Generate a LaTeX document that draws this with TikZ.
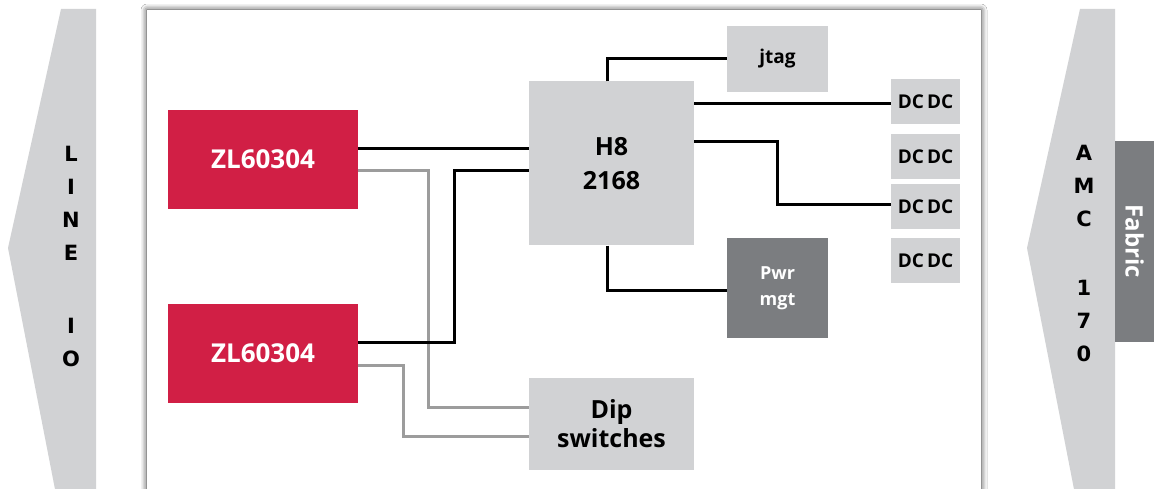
\documentclass[tikz,border=0pt]{standalone}
\usepackage{fontspec}
\setmainfont{Open Sans}
\newfontfamily\heavyfont{DejaVu Sans}
\usetikzlibrary{shadows.blur}
\definecolor{boxgray}{HTML}{D1D2D4}
\definecolor{darkbox}{HTML}{7B7D80}
\definecolor{crimson}{HTML}{D11F45}
\definecolor{linegray}{HTML}{9C9C9C}
\begin{document}
\begin{tikzpicture}[x=1pt,y=-1pt,
  box/.style={fill=boxgray, inner sep=0pt, align=center},
  redbox/.style={fill=crimson, text=white, inner sep=0pt, align=center,
    font=\bfseries\fontsize{26}{30}\selectfont, minimum width=190pt, minimum height=99pt},
  bigtxt/.style={font=\bfseries\fontsize{25}{34}\selectfont},
  smalltxt/.style={font=\bfseries\fontsize{19}{23}\selectfont},
  blk/.style={line width=3pt, black},
  gry/.style={line width=3pt, linegray},
  side/.style={fill=boxgray},
  vert/.style={inner sep=0pt, align=center, font=\heavyfont\bfseries\fontsize{21}{33}\selectfont},
]
\useasboundingbox (0,0) rectangle (1154,489);
\clip (0,0) rectangle (1154,489);
\fill[white] (0,0) rectangle (1154,489);

% side arrows
\fill[side] (61,9) -- (96,9) -- (96,520) -- (61,520) -- (8,248) -- cycle;
\fill[side] (1080,9) -- (1115,9) -- (1115,520) -- (1080,520) -- (1027,248) -- cycle;
\node[vert] (lineio) at (71,256) {L\\I\\N\\E\\[40pt]I\\O};
\node[vert] (amc) at (1084,253.5) {A\\M\\C\\[36pt]1\\7\\0};
\node[fill=darkbox, text=white, rotate=-90, inner sep=0pt, minimum width=201pt, minimum height=39pt,
  font=\bfseries\fontsize{24}{28}\selectfont] (fabric) at (1134.5,241.5) {Fabric};

% main panel
\path[fill=white, blur shadow={shadow xshift=0pt, shadow yshift=0pt, shadow blur radius=6pt, shadow opacity=85}]
  (147,10) rectangle (981,530);

% nodes
\node[redbox] (zl1) at (263,159.5) {ZL60304};
\node[redbox] (zl2) at (263,353.5) {ZL60304};
\node[box, bigtxt, minimum width=165pt, minimum height=164pt] (h8) at (611.5,163.5) {H8\\2168};
\node[box, smalltxt, minimum width=101pt, minimum height=66pt] (jtag) at (777.5,59) {jtag};
\node[box, smalltxt, minimum width=69pt, minimum height=45pt] (dc1) at (925.5,101.5) {DC\,DC};
\node[box, smalltxt, minimum width=69pt, minimum height=45pt] (dc2) at (925.5,156.5) {DC\,DC};
\node[box, smalltxt, minimum width=69pt, minimum height=45pt] (dc3) at (925.5,206.5) {DC\,DC};
\node[box, smalltxt, minimum width=69pt, minimum height=45pt] (dc4) at (925.5,260.5) {DC\,DC};
\node[box, fill=darkbox, text=white, font=\bfseries\fontsize{18}{26}\selectfont,
  minimum width=101pt, minimum height=100pt] (pwr) at (777.5,288) {Pwr\\mgt};
\node[box, font=\bfseries\fontsize{25}{29}\selectfont, minimum width=165pt, minimum height=92pt] (dip) at (611.5,424) {Dip\\switches};

% connectors
\draw[blk] (zl1.east |- 0,149) -- (h8.west |- 0,149);
\draw[gry] (zl1.east |- 0,171) -- (428,171) -- (428,407) -- (dip.west |- 0,407);
\draw[blk] (zl2.east |- 0,342) -- (454,342) -- (454,171) -- (h8.west |- 0,171);
\draw[gry] (zl2.east |- 0,365) -- (403,365) -- (403,436) -- (dip.west |- 0,436);
\draw[blk] (h8.north -| 607,0) -- (607,59) -- (jtag.west);
\draw[blk] (h8.east |- 0,104) -- (dc1.west |- 0,104);
\draw[blk] (h8.east |- 0,142) -- (777,142) -- (777,205) -- (dc3.west |- 0,205);
\draw[blk] (h8.south -| 607,0) -- (607,290) -- (pwr.west |- 0,290);
\end{tikzpicture}
\end{document}
